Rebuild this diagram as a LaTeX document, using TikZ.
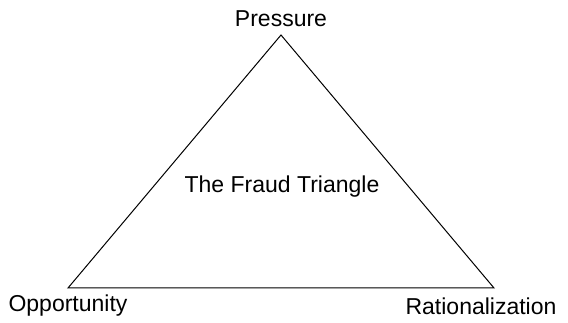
\documentclass[tikz,border=0pt]{standalone}
\usepackage{fontspec}
\setmainfont{Liberation Sans}
\begin{document}
\begin{tikzpicture}[x=1pt,y=-1pt,
  lbl/.style={inner sep=0pt,font=\fontsize{23}{27}\selectfont},
  edge/.style={draw=black,line width=1pt,line join=miter}]
\useasboundingbox[fill=white] (0,0) rectangle (568,323);
\coordinate (top) at (281,35);
\coordinate (bl) at (68,288);
\coordinate (br) at (494,288);
\draw[edge] (top) -- (bl) -- (br) -- cycle;
\node[lbl] (pressure) at (281,19) {Pressure};
\node[lbl] (opportunity) at (68,306) {Opportunity};
\node[lbl] (rational) at (481,306) {Rationalization};
\node[lbl] (title) at (282,187) {The Fraud Triangle};
\end{tikzpicture}
\end{document}
